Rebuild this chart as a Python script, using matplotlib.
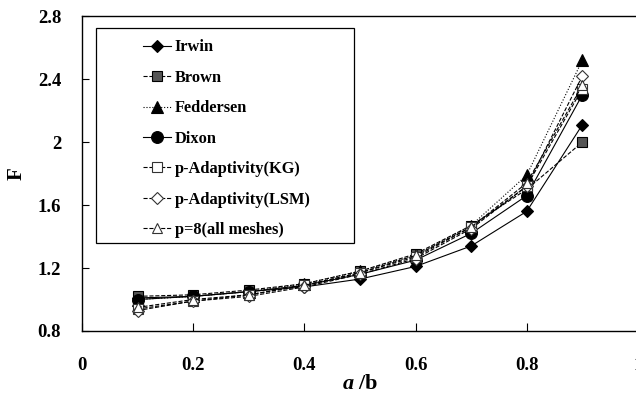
import matplotlib
matplotlib.use("Agg")
import matplotlib.pyplot as plt
from matplotlib.patches import Rectangle

plt.rcParams.update({
    "font.family": "Liberation Serif",
    "font.weight": "bold",
    "axes.labelweight": "bold",
    "font.size": 13,
    "mathtext.fontset": "custom",
    "mathtext.it": "Liberation Serif:italic:bold",
    "mathtext.rm": "Liberation Serif:bold",
})

# ---- data ----
ab = [0.1, 0.2, 0.3, 0.4, 0.5, 0.6, 0.7, 0.8, 0.9]
irwin     = [1.01, 1.02, 1.05, 1.08, 1.13, 1.21, 1.34, 1.56, 2.11]
brown     = [1.02, 1.03, 1.06, 1.10, 1.18, 1.29, 1.47, 1.70, 2.00]
feddersen = [1.00, 1.02, 1.05, 1.10, 1.18, 1.28, 1.47, 1.79, 2.52]
dixon     = [1.00, 1.02, 1.05, 1.09, 1.16, 1.25, 1.42, 1.66, 2.30]
p_kg      = [0.94, 0.99, 1.03, 1.09, 1.17, 1.27, 1.46, 1.72, 2.34]
p_lsm     = [0.93, 0.99, 1.02, 1.08, 1.16, 1.26, 1.45, 1.72, 2.42]
p8        = [0.95, 1.00, 1.03, 1.09, 1.17, 1.28, 1.46, 1.74, 2.36]

labels = ["Irwin", "Brown", "Feddersen", "Dixon",
          "p-Adaptivity(KG)", "p-Adaptivity(LSM)", "p=8(all meshes)"]

fig = plt.figure(figsize=(6.36, 4.01), dpi=100)
ax = fig.add_axes([0.129, 0.1746, 0.874, 0.785])

styles = [
    dict(marker="D", ls="-", mfc="black", mec="black", ms=6.5),
    dict(marker="s", ls="--", mfc="#555555", mec="black", ms=7.5),
    dict(marker="^", ls=":", mfc="black", mec="black", ms=8.5),
    dict(marker="o", ls="-", mfc="black", mec="black", ms=8.5),
    dict(marker="s", ls="--", mfc="white", mec="#333333", ms=7.5),
    dict(marker="D", ls="--", mfc="white", mec="#333333", ms=6.5),
    dict(marker="^", ls="--", mfc="white", mec="#333333", ms=7.5),
]
series = [irwin, brown, feddersen, dixon, p_kg, p_lsm, p8]
for ys, lab, st in zip(series, labels, styles):
    ax.plot(ab, ys, color="black", lw=0.8, label=lab, mew=0.8, **st)

ax.set_xlim(0, 1)
ax.set_ylim(0.8, 2.8)
ax.set_xticks([0, 0.2, 0.4, 0.6, 0.8, 1.0])
ax.set_xticklabels(["0", "0.2", "0.4", "0.6", "0.8", "1"])
ax.set_yticks([0.8, 1.2, 1.6, 2.0, 2.4, 2.8])
ax.set_yticklabels(["0.8", "1.2", "1.6", "2", "2.4", "2.8"])
ax.tick_params(axis="x", direction="in", length=6, pad=19, labelsize=13.5)
ax.tick_params(axis="y", direction="in", length=5, pad=15, labelsize=13.5)
for sp in ax.spines.values():
    sp.set_linewidth(1.0)

ax.set_ylabel("F", fontsize=15, labelpad=8)
ax.set_xlabel(r"$a$ /b", fontsize=16, labelpad=0)

# legend without its own frame; the wider frame is drawn in figure pixels
leg = ax.legend(loc="upper left", bbox_to_anchor=(132 / 636, 1 - 28 / 401),
                bbox_transform=fig.transFigure, borderaxespad=0,
                frameon=False, fontsize=11.8, labelspacing=0.88,
                handlelength=1.7, borderpad=0.7, handletextpad=0.2)
ax.add_patch(Rectangle((96 / 636, 1 - 243 / 401), 258 / 636, 215 / 401,
                       transform=fig.transFigure, fill=False, clip_on=False,
                       edgecolor="black", linewidth=0.9, zorder=5))

fig.savefig("out.png", dpi=100)
